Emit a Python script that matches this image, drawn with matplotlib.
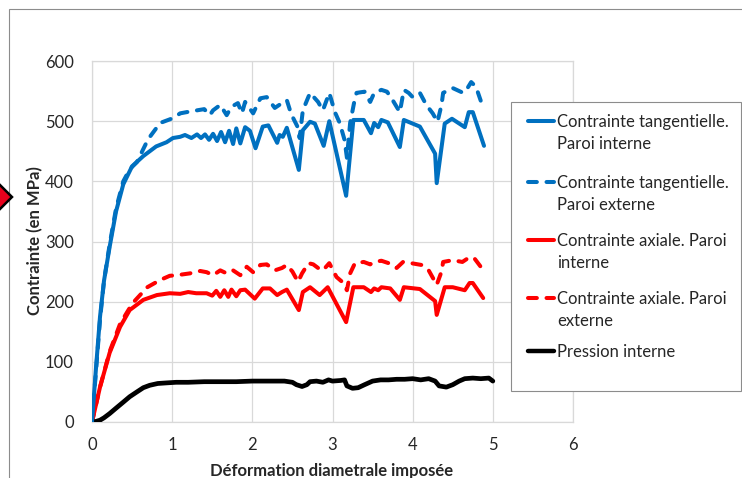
import matplotlib
matplotlib.use("Agg")
import matplotlib.pyplot as plt
from matplotlib.lines import Line2D
from matplotlib.patches import Rectangle, Polygon

# ---------------- data ----------------
tang_int_x = [0, 0.05, 0.1, 0.15, 0.22, 0.3, 0.39, 0.5, 0.64, 0.8, 0.93, 1.01, 1.1, 1.16, 1.24, 1.31,
              1.36, 1.41, 1.46, 1.51, 1.56, 1.61, 1.66, 1.71, 1.76, 1.80, 1.85, 1.91, 1.97, 2.04, 2.13,
              2.20, 2.31, 2.34, 2.38, 2.43, 2.58, 2.63, 2.72, 2.78, 2.89, 2.96, 3.17, 3.26, 3.39, 3.48,
              3.52, 3.57, 3.61, 3.69, 3.84, 3.89, 4.09, 4.28, 4.30, 4.40, 4.49, 4.65, 4.70, 4.75, 4.89]
tang_int_y = [0, 90, 175, 235, 291, 350, 395, 425, 442, 458, 465, 472, 474, 477, 472, 478,
              472, 478, 469, 479, 467, 482, 465, 484, 462, 488, 463, 490, 484, 455, 491,
              493, 464, 477, 474, 489, 419, 485, 499, 496, 459, 500, 376, 502, 502, 480,
              497, 490, 502, 498, 457, 502, 491, 446, 397, 496, 504, 490, 515, 515, 459]

tang_ext_x = [0, 0.05, 0.1, 0.15, 0.22, 0.3, 0.39, 0.47, 0.56, 0.7, 0.85, 1.01, 1.10, 1.18, 1.31, 1.40,
              1.47, 1.51, 1.60, 1.68, 1.74, 1.82, 1.87, 1.91, 2.01, 2.10, 2.18, 2.28, 2.37, 2.43, 2.47,
              2.51, 2.57, 2.59, 2.63, 2.72, 2.82, 2.88, 2.96, 3.03, 3.09, 3.15, 3.18, 3.22, 3.28, 3.30,
              3.40, 3.47, 3.52, 3.61, 3.68, 3.75, 3.84, 3.89, 3.95, 4.00, 4.09, 4.17, 4.25, 4.31, 4.36,
              4.38, 4.50, 4.63, 4.67, 4.73, 4.79, 4.88]
tang_ext_y = [0, 85, 170, 235, 295, 355, 400, 420, 432, 470, 497, 505, 513, 515, 518, 520,
              510, 518, 527, 510, 524, 530, 513, 532, 513, 538, 540, 522, 530, 535, 518,
              505, 489, 472, 518, 547, 532, 518, 547, 515, 497, 469, 439, 497, 538, 547,
              549, 532, 547, 552, 549, 535, 515, 552, 547, 540, 547, 527, 513, 499, 527,
              547, 555, 547, 552, 565, 557, 522]

ax_int_x = [0, 0.1, 0.22, 0.35, 0.47, 0.64, 0.81, 0.97, 1.1, 1.2, 1.3, 1.43, 1.50, 1.55, 1.60, 1.65,
            1.70, 1.74, 1.80, 1.85, 1.91, 2.03, 2.13, 2.22, 2.31, 2.37, 2.43, 2.58, 2.63, 2.72, 2.84,
            2.94, 3.17, 3.26, 3.39, 3.48, 3.52, 3.57, 3.61, 3.72, 3.84, 3.89, 4.09, 4.28, 4.30, 4.40,
            4.50, 4.65, 4.71, 4.75, 4.88]
ax_int_y = [0, 58, 115, 158, 186, 203, 211, 214, 213, 216, 214, 214, 210, 218, 208, 219,
            208, 220, 209, 219, 220, 205, 222, 222, 211, 216, 220, 186, 216, 224, 211,
            224, 166, 224, 224, 216, 222, 219, 224, 222, 203, 224, 221, 201, 178, 224,
            224, 219, 231, 231, 206]

ax_ext_x = [0, 0.1, 0.22, 0.35, 0.44, 0.51, 0.69, 0.85, 0.97, 1.06, 1.22, 1.35, 1.43, 1.51, 1.60, 1.68,
            1.76, 1.85, 1.93, 2.01, 2.10, 2.18, 2.28, 2.37, 2.43, 2.50, 2.57, 2.62, 2.70, 2.76, 2.82,
            2.88, 2.96, 3.05, 3.12, 3.18, 3.22, 3.28, 3.39, 3.47, 3.52, 3.61, 3.70, 3.80, 3.88, 3.98,
            4.11, 4.20, 4.30, 4.36, 4.38, 4.50, 4.62, 4.71, 4.77, 4.90]
ax_ext_y = [0, 58, 117, 163, 183, 198, 224, 236, 243, 244, 247, 251, 249, 244, 252, 247,
            252, 244, 258, 249, 261, 262, 252, 256, 261, 250, 233, 247, 264, 262, 256,
            252, 264, 241, 233, 219, 247, 264, 266, 262, 266, 268, 264, 256, 266, 264,
            261, 252, 228, 250, 266, 269, 266, 274, 272, 249]

press_x = [0, 0.05, 0.1, 0.15, 0.22, 0.3, 0.39, 0.47, 0.56, 0.64, 0.72, 0.82, 0.93, 1.05, 1.2, 1.4,
           1.6, 1.8, 2.0, 2.2, 2.4, 2.5, 2.55, 2.62, 2.68, 2.72, 2.8, 2.88, 2.95, 3.0, 3.1,
           3.15, 3.18, 3.25, 3.32, 3.40, 3.5, 3.6, 3.7, 3.8, 3.9, 4.0, 4.1, 4.2, 4.28, 4.33,
           4.42, 4.5, 4.58, 4.65, 4.75, 4.85, 4.95, 5.0]
press_y = [0, 1, 3, 7, 14, 23, 33, 42, 50, 57, 61, 64, 65, 66, 66, 67,
           67, 67, 68, 68, 68, 66, 62, 59, 62, 67, 68, 66, 70, 68, 69,
           70, 60, 56, 57, 62, 68, 70, 70, 71, 71, 72, 70, 72, 68, 60,
           58, 62, 68, 72, 73, 72, 73, 68]

series_labels = ["Contrainte tangentielle.\nParoi interne",
                 "Contrainte tangentielle.\nParoi externe",
                 "Contrainte axiale. Paroi\ninterne",
                 "Contrainte axiale. Paroi\nexterne",
                 "Pression interne"]
series_colors = ["#0070C0", "#0070C0", "#FF0000", "#FF0000", "#000000"]
series_dashed = [False, True, False, True, False]

x_ticks = [0, 1, 2, 3, 4, 5, 6]
y_ticks = [0, 100, 200, 300, 400, 500, 600]
x_label = "Déformation diametrale imposée"
y_label = "Contrainte (en MPa)"

# ---------------- figure ----------------
W, H = 742, 478
fig = plt.figure(figsize=(W / 100, H / 100), dpi=100)
plt.rcParams['font.family'] = ['Lato', 'DejaVu Sans']
DASH = (0, (2.2, 2.4))

def fx(px):
    return px / W

def fy(py):
    return 1 - py / H

# outer chart frame
fig.patches.append(Rectangle((fx(9), fy(9) - 2), 2, 2, transform=fig.transFigure,
                             fill=False, edgecolor="#8c8c8c", linewidth=0.8))

ax = fig.add_axes([fx(92), fy(422), fx(573) - fx(92), fy(61) - fy(422)])

xs = [tang_int_x, tang_ext_x, ax_int_x, ax_ext_x, press_x]
ys = [tang_int_y, tang_ext_y, ax_int_y, ax_ext_y, press_y]
for i in range(5):
    lw = 3.4 if i == 4 else 2.9
    if series_dashed[i]:
        ax.plot(xs[i], ys[i], color=series_colors[i], lw=lw, linestyle=DASH,
                dash_capstyle="round", dash_joinstyle="round", zorder=3)
    else:
        ax.plot(xs[i], ys[i], color=series_colors[i], lw=lw, solid_capstyle="round",
                solid_joinstyle="round", zorder=3 + (i == 0))

ax.set_xlim(0, 6)
ax.set_ylim(0, 600)
ax.set_xticks(x_ticks)
ax.set_yticks(y_ticks)
ax.grid(True, color="#d9d9d9", linewidth=0.9)
ax.set_axisbelow(True)
for s in ax.spines.values():
    s.set_color("#d9d9d9")
    s.set_linewidth(0.9)
ax.tick_params(length=0, labelsize=12, labelcolor="#262626")
ax.tick_params(axis="y", pad=13)
ax.tick_params(axis="x", pad=11)

fig.text(fx(35), fy(241), y_label, rotation=90, ha="center", va="center",
         fontsize=12, fontweight="bold", color="#262626")
fig.text(fx(332), fy(471), x_label, ha="center", va="center",
         fontsize=12, fontweight="bold", color="#262626")

# legend box
lx0, ly0, lx1, ly1 = 511, 102, 741, 391
fig.patches.append(Rectangle((fx(lx0), fy(ly1)), fx(lx1) - fx(lx0), fy(ly0) - fy(ly1),
                             transform=fig.transFigure, facecolor="white",
                             edgecolor="#8c8c8c", linewidth=0.8, zorder=5))
entry_y = [121, 182, 240, 298, 351]
for i in range(5):
    lw = 3.2 if i == 4 else 2.9
    ls = DASH if series_dashed[i] else "-"
    fig.lines.append(Line2D([fx(528), fx(554)], [fy(entry_y[i]), fy(entry_y[i])],
                            transform=fig.transFigure, color=series_colors[i], lw=lw,
                            linestyle=ls, solid_capstyle="round", dash_capstyle="round",
                            zorder=6))
    fig.text(fx(557), fy(entry_y[i] - 7), series_labels[i], ha="left", va="top",
             fontsize=12, color="#262626", linespacing=1.45, zorder=7)

# selection handle at left edge
fig.patches.append(Polygon([(fx(-12), fy(197)), (fx(0), fy(185)), (fx(12), fy(197)), (fx(0), fy(209))],
                           closed=True, transform=fig.transFigure, facecolor="#e8001c",
                           edgecolor="black", linewidth=1.8, zorder=8))

fig.savefig("out.png", dpi=100)
